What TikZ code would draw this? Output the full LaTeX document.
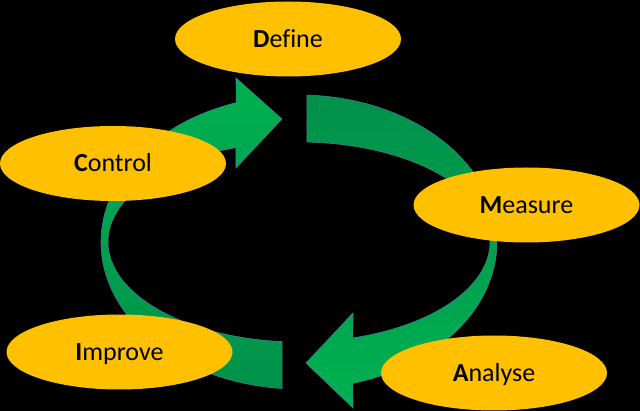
\documentclass[tikz,border=0pt]{standalone}
\usepackage{fontspec}
\setmainfont{Carlito}[Ligatures=NoCommon]
\usetikzlibrary{shapes.geometric}
\definecolor{gold}{HTML}{FFC000}
\definecolor{leaf}{HTML}{00B050}
\definecolor{darkleaf}{HTML}{00914A}
\definecolor{rim}{HTML}{3E7F98}
\begin{document}
\begin{tikzpicture}[x=1pt,y=-1pt,
  phase/.style={ellipse,fill=gold,inner sep=0pt,minimum width=226pt,minimum height=75pt,
    text height=16.7pt,text depth=0pt,font=\fontsize{26}{31}\selectfont},
  band/.style={draw=rim,line width=0.6pt}]
\path[use as bounding box,fill=black] (0,0) rectangle (640,411);
% right half of the ring: Define -> Analyse
\coordinate (R0) at (306.9,95.1);
\coordinate (R1) at (353,408);
\coordinate (R2) at (306,363);
\coordinate (R3) at (353,313);
\coordinate (R4) at (352.9,337.9);
\path[band,top color=darkleaf,bottom color=leaf] (R0)
  arc[start angle=-87.7,end angle=74.2,x radius=198,y radius=147]
  --(R1)--(R2)--(R3)--(R4)
  arc[start angle=73.6,end angle=-87.6,x radius=191,y radius=100]--cycle;
% left half of the ring: Improve -> Define
\coordinate (L0) at (282.1,388.5);
\coordinate (L1) at (236,78);
\coordinate (L2) at (282,119);
\coordinate (L3) at (236,168);
\coordinate (L4) at (235.9,147.6);
\path[band,top color=leaf,middle color=leaf,bottom color=darkleaf] (L0)
  arc[start angle=94.9,end angle=251.5,x radius=198,y radius=147]
  --(L1)--(L2)--(L3)--(L4)
  arc[start angle=250.7,end angle=95.1,x radius=191,y radius=100]--cycle;
% the five phases
\node[phase] (define) at (288,39) {\textbf{D}efine};
\node[phase] (measure) at (526.5,205) {\textbf{M}easure};
\node[phase] (analyse) at (494,373) {\textbf{A}nalyse};
\node[phase] (improve) at (119.5,352) {\textbf{I}mprove};
\node[phase] (control) at (113,163.5) {\textbf{C}ontrol};
\end{tikzpicture}
\end{document}
